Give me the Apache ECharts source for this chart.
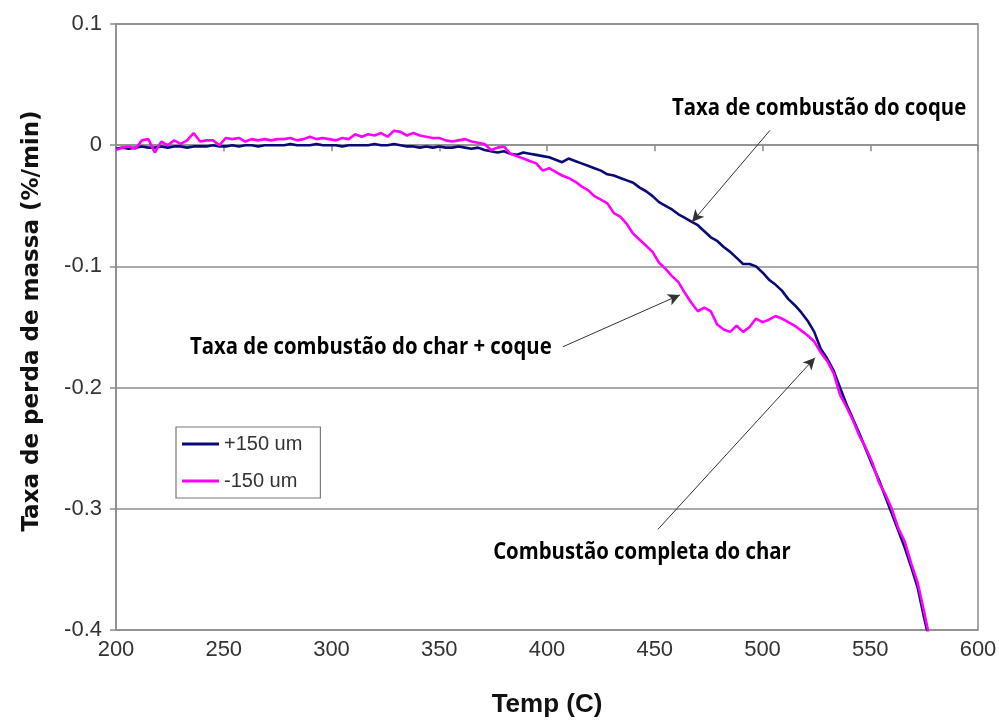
<!DOCTYPE html>
<html>
<head>
<meta charset="utf-8">
<script src="https://cdn.jsdelivr.net/npm/echarts@6/dist/echarts.min.js"></script>
<style>html,body{margin:0;padding:0;background:#fff;}#c{width:999px;height:722px;}</style>
</head>
<body>
<div id="c"></div>
<script>
// Temperature (C)
var temps = [200,203,206,209,212,215,218,221,224,227,230,233,236,239,242,245,248,251,254,257,
260,263,266,269,272,275,278,281,284,287,290,293,296,299,302,305,308,311,314,317,
320,323,326,329,332,335,338,341,344,347,350,353,356,359,362,365,368,371,374,377,
380,383,386,389,392,395,398,401,404,407,410,413,416,419,422,425,428,431,434,437,
440,443,446,449,452,455,458,461,464,467,470,473,476,479,482,485,488,491,494,497,
500,503,506,509,512,515,518,521,524,527,530,533,536,539,542,545,548,551,554,557,
560,563,566,569,572,575,577];
// +150 um
var plus150 = [-0.003,-0.002,-0.003,-0.002,-0.001,-0.002,-0.002,-0.001,-0.002,-0.001,-0.001,-0.002,-0.001,-0.001,-0.001,0.000,-0.001,-0.001,0.000,-0.001,
0.000,0.000,-0.001,0.000,0.000,0.000,0.000,0.001,0.000,0.000,0.000,0.001,0.000,0.000,0.000,-0.001,0.000,0.000,0.000,0.000,
0.001,0.000,0.000,0.001,0.000,-0.001,-0.001,-0.002,-0.001,-0.002,-0.001,-0.002,-0.002,-0.001,-0.002,-0.003,-0.002,-0.004,-0.005,-0.006,
-0.005,-0.007,-0.008,-0.006,-0.007,-0.008,-0.009,-0.010,-0.012,-0.014,-0.011,-0.013,-0.015,-0.017,-0.019,-0.021,-0.024,-0.025,-0.027,-0.029,
-0.031,-0.035,-0.038,-0.042,-0.047,-0.050,-0.053,-0.057,-0.060,-0.063,-0.066,-0.071,-0.076,-0.079,-0.084,-0.088,-0.093,-0.098,-0.098,-0.100,
-0.105,-0.111,-0.115,-0.120,-0.127,-0.132,-0.138,-0.145,-0.154,-0.168,-0.176,-0.186,-0.200,-0.214,-0.226,-0.238,-0.251,-0.264,-0.276,-0.290,
-0.304,-0.318,-0.332,-0.348,-0.365,-0.390,-0.405];
// -150 um
var minus150 = [-0.004,-0.002,-0.001,-0.003,0.004,0.005,-0.006,0.003,0.000,0.004,0.001,0.004,0.010,0.003,0.004,0.004,0.000,0.006,0.005,0.006,
0.003,0.005,0.004,0.005,0.004,0.005,0.005,0.006,0.004,0.005,0.007,0.005,0.006,0.005,0.004,0.006,0.005,0.009,0.007,0.009,
0.008,0.010,0.007,0.012,0.011,0.008,0.010,0.008,0.007,0.006,0.006,0.004,0.003,0.004,0.005,0.003,0.002,0.001,-0.004,-0.002,
-0.001,-0.007,-0.009,-0.011,-0.013,-0.015,-0.021,-0.019,-0.022,-0.025,-0.027,-0.030,-0.034,-0.037,-0.042,-0.045,-0.048,-0.056,-0.059,-0.065,
-0.073,-0.078,-0.083,-0.088,-0.097,-0.102,-0.108,-0.113,-0.122,-0.130,-0.137,-0.134,-0.137,-0.148,-0.152,-0.154,-0.149,-0.154,-0.150,-0.143,
-0.146,-0.144,-0.141,-0.143,-0.146,-0.149,-0.153,-0.157,-0.162,-0.171,-0.178,-0.188,-0.206,-0.216,-0.227,-0.240,-0.250,-0.262,-0.278,-0.288,
-0.300,-0.316,-0.327,-0.345,-0.361,-0.385,-0.402];
var seriesNames = ['+150 um', '-150 um'];
var xTicks = [200, 250, 300, 350, 400, 450, 500, 550, 600];
var yTicks = [-0.4, -0.3, -0.2, -0.1, 0, 0.1];
// annotations: text, anchor [T, value] of text start, arrow from -> to
var annTexts = ['Taxa de combustão do coque', 'Taxa de combustão do char + coque', 'Combustão completa do char'];
var annTextAt = [[458, 0.030], [234.3, -0.167], [375, -0.336]];
var annArrowFrom = [[503.5, 0.0123], [407.4, -0.1663], [451.5, -0.3169]];
var annArrowTo = [[467.3, -0.0634], [461.7, -0.1235], [524.4, -0.1753]];

function pairs(xs, ys) { return xs.map(function (x, i) { return [x, ys[i]]; }); }

var chart = echarts.init(document.getElementById('c'), null, {renderer: 'canvas'});
var arrowData = annArrowFrom.map(function (f, i) {
  return [{coord: f}, {coord: annArrowTo[i]}];
});
var option = {
  animation: false,
  backgroundColor: '#ffffff',
  grid: {left: 116, right: 21, top: 24, bottom: 92, show: true, borderColor: '#8c8c8c', borderWidth: 1.5,
    containLabel: false, outerBoundsMode: 'none'},
  legend: {
    orient: 'vertical', left: 176, top: 427,
    data: seriesNames,
    icon: 'rect', itemWidth: 37, itemHeight: 3, itemGap: 17,
    padding: [7, 18, 7, 6],
    borderColor: '#7a7a7a', borderWidth: 1.2,
    textStyle: {fontFamily: 'Liberation Sans', fontSize: 20, color: '#333'}
  },
  xAxis: {
    type: 'value', min: xTicks[0], max: xTicks[xTicks.length - 1], interval: 50,
    name: 'Temp (C)', nameLocation: 'middle', nameGap: 62,
    nameTextStyle: {fontFamily: 'Liberation Sans', fontWeight: 'bold', fontSize: 26, color: '#111'},
    axisLine: {lineStyle: {color: '#8c8c8c', width: 1.5}},
    axisTick: {show: true, length: 6, lineStyle: {color: '#8c8c8c', width: 1.5}},
    axisLabel: {fontFamily: 'Liberation Sans', fontSize: 22, color: '#333', margin: 9},
    splitLine: {show: false}
  },
  yAxis: {
    type: 'value', min: yTicks[0], max: yTicks[yTicks.length - 1], interval: 0.1,
    name: 'Taxa de perda de massa (%/min)', nameLocation: 'middle', nameGap: 72, nameRotate: 90,
    nameTextStyle: {fontFamily: 'DejaVu Sans', fontWeight: 'bold', fontSize: 23, color: '#111', padding: [0, 0, 0, 12]},
    axisLine: {show: true, lineStyle: {color: '#8c8c8c', width: 1.5}},
    axisTick: {show: true, length: 6, lineStyle: {color: '#8c8c8c', width: 1.5}},
    axisLabel: {fontFamily: 'Liberation Sans', fontSize: 22, color: '#333', margin: 14},
    splitLine: {show: true, lineStyle: {color: '#8c8c8c', width: 1.5}}
  },
  series: [
    {
      name: seriesNames[0], type: 'line', data: pairs(temps, plus150),
      showSymbol: false, symbol: 'none', color: '#0a0a78',
      lineStyle: {color: '#0a0a78', width: 2.6}, z: 3
    },
    {
      name: seriesNames[1], type: 'line', data: pairs(temps, minus150),
      showSymbol: false, symbol: 'none', color: '#ff00ff',
      lineStyle: {color: '#ff00ff', width: 2.6}, z: 4,
      markLine: {
        silent: true, symbol: ['none', 'arrow'], symbolSize: [9, 12],
        label: {show: false},
        lineStyle: {color: '#333', width: 1, type: 'solid'},
        data: arrowData, z: 10
      }
    }
  ]
};
chart.setOption(option);

var graphics = annTexts.map(function (t, i) {
  var p = chart.convertToPixel({gridIndex: 0}, annTextAt[i]);
  return {
    type: 'text', x: p[0], y: p[1], scaleX: 0.885, z: 100,
    style: {text: t, fontFamily: 'Open Sans', fontWeight: 'bold', fontSize: 23, fill: '#000',
      textAlign: 'left', textVerticalAlign: 'middle'}
  };
});
chart.setOption({graphic: graphics});
</script>
</body>
</html>
